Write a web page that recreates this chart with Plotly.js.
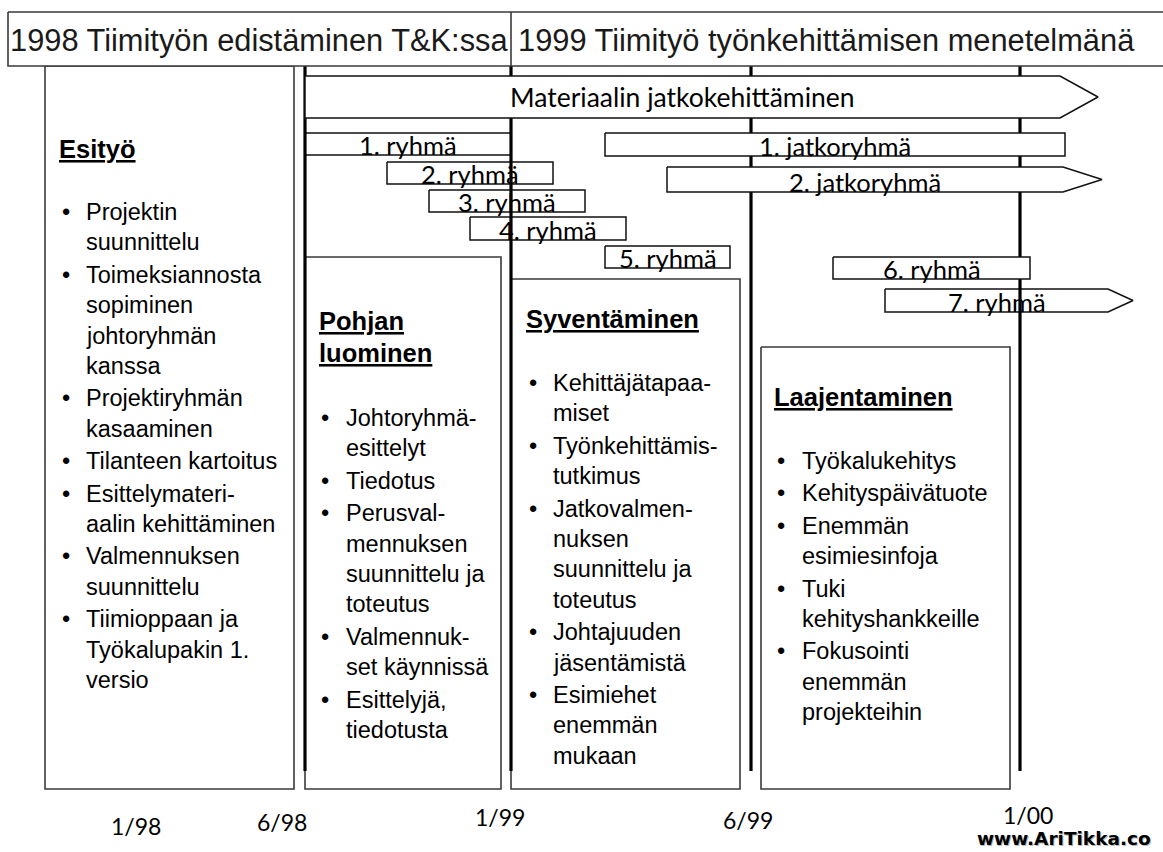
<!DOCTYPE html>
<html><head><meta charset="utf-8">
<script src="https://cdn.plot.ly/plotly-3.0.1.min.js"></script>
<style>html,body{margin:0;padding:0;background:#fff;overflow:hidden}</style>
</head><body><div id="chart" style="width:1163px;height:852px"></div>
<script>
// ---------------- DATA ----------------
const headerTitles = ["1998 Tiimityön edistäminen T&K:ssa", "1999 Tiimityö työnkehittämisen menetelmänä"];
const headerCellEdges = [8, 511, 1175];

const milestoneLabels = ["1/98", "6/98", "1/99", "6/99", "1/00"];
const milestoneLineX = [305, 511, 751, 1020];          // 6/98, 1/99, 6/99, 1/00

const barLabels = ["Materiaalin jatkokehittäminen", "1. ryhmä", "2. ryhmä", "3. ryhmä", "4. ryhmä",
                   "5. ryhmä", "1. jatkoryhmä", "2. jatkoryhmä", "6. ryhmä", "7. ryhmä"];
const barStart  = [305, 305, 387, 429, 470, 605, 605, 667, 833, 885];
const barEnd    = [1060, 511, 553, 585, 626, 730, 1065, 1063, 1030, 1108];
const barRowTop = [76, 133, 162, 190, 217, 246, 133, 167, 257, 289];
const barRowBot = [118, 155, 184, 212, 240, 268, 156, 192, 279, 312];
const barContinues = ["Materiaalin jatkokehittäminen", "2. jatkoryhmä", "7. ryhmä"];
const barsOverLines = ["Materiaalin jatkokehittäminen", "1. jatkoryhmä", "2. jatkoryhmä", "6. ryhmä"];

const phaseTitles = [["Esityö"], ["Pohjan", "luominen"], ["Syventäminen"], ["Laajentaminen"]];
const phaseItems = [
  [["Projektin", "suunnittelu"], ["Toimeksiannosta", "sopiminen", "johtoryhmän", "kanssa"],
   ["Projektiryhmän", "kasaaminen"], ["Tilanteen kartoitus"], ["Esittelymateri-", "aalin kehittäminen"],
   ["Valmennuksen", "suunnittelu"], ["Tiimioppaan ja", "Työkalupakin 1.", "versio"]],
  [["Johtoryhmä-", "esittelyt"], ["Tiedotus"], ["Perusval-", "mennuksen", "suunnittelu ja", "toteutus"],
   ["Valmennuk-", "set käynnissä"], ["Esittelyjä,", "tiedotusta"]],
  [["Kehittäjätapaa-", "miset"], ["Työnkehittämis-", "tutkimus"], ["Jatkovalmen-", "nuksen", "suunnittelu ja", "toteutus"],
   ["Johtajuuden", "jäsentämistä"], ["Esimiehet", "enemmän", "mukaan"]],
  [["Työkalukehitys"], ["Kehityspäivätuote"], ["Enemmän", "esimiesinfoja"], ["Tuki", "kehityshankkeille"],
   ["Fokusointi", "enemmän", "projekteihin"]]
];
const footerText = "www.AriTikka.co";

// ---------------- LAYOUT / STYLE ----------------
const W = 1163, H = 852;
const SANS = "Liberation Sans, Arial, sans-serif";
const GILL = "Lato, 'Open Sans', sans-serif";
const boxLine = "#3a3a3a";

const phaseBox = { x0: [45, 305, 511, 761], x1: [294, 501, 740, 1010], y0: [66, 257, 279, 347], y1: 789 };
const phaseTitleY = [149, 321, 319, 397];
const phaseFirstY = [212, 418, 383, 461];
const phaseTitleX = [58, 318, 525, 773];
const phaseBulletX = [61, 320, 528, 776];
const phaseTextX = [85, 345, 552, 801];
const lineStep = 30.4, itemGap = 2;
const milestoneLabelX = [136, 282, 500, 748, 1028];
const milestoneLabelY = [826, 822, 817, 820, 815];
const arrowTip = { "Materiaalin jatkokehittäminen": 38, "2. jatkoryhmä": 39, "7. ryhmä": 25 };

const traces = [];
const annotations = [];

function ann(o) {
  return Object.assign({ xref: "x", yref: "y", showarrow: false, borderpad: 0 }, o);
}
function poly(x0, x1, y0, y1, tip) {
  if (!tip) return { x: [x0, x1, x1, x0, x0], y: [y0, y0, y1, y1, y0] };
  const ym = (y0 + y1) / 2;
  return { x: [x0, x1, x1 + tip, x1, x0, x0], y: [y0, y0, ym, y1, y1, y0] };
}
function filled(p, color, width) {
  return { type: "scatter", mode: "lines", x: p.x, y: p.y, fill: "toself", fillcolor: "#ffffff",
           line: { color: color, width: width }, hoverinfo: "skip", showlegend: false };
}
function segment(xs, ys, color, width) {
  return { type: "scatter", mode: "lines", x: xs, y: ys, line: { color: color, width: width },
           hoverinfo: "skip", showlegend: false };
}

// phase boxes
phaseTitles.forEach((t, i) => {
  traces.push(filled(poly(phaseBox.x0[i], phaseBox.x1[i], phaseBox.y0[i], phaseBox.y1), boxLine, 1.6));
});

// bars drawn beneath the milestone lines
function addBar(i) {
  const lab = barLabels[i];
  const tip = barContinues.includes(lab) ? arrowTip[lab] : 0;
  traces.push(filled(poly(barStart[i], barEnd[i], barRowTop[i], barRowBot[i], tip), "#111", 1.5));
}
barLabels.forEach((lab, i) => { if (!barsOverLines.includes(lab)) addBar(i); });

// milestone lines
milestoneLineX.forEach(x => traces.push(segment([x, x], [66, 771], "#000", 3.2)));

// bars drawn over the lines
barLabels.forEach((lab, i) => { if (barsOverLines.includes(lab)) addBar(i); });

// header
traces.push(filled(poly(headerCellEdges[0], headerCellEdges[2], 12, 66), boxLine, 1.6));
traces.push(segment([headerCellEdges[1], headerCellEdges[1]], [12, 66], boxLine, 1.6));
const headerCenters = [259, 826];
headerTitles.forEach((t, i) => {
  annotations.push(ann({ x: headerCenters[i], y: 40,
    text: t, xanchor: "center", yanchor: "middle", font: { family: SANS, size: 30.8, color: "#1a1a1a" } }));
});

// bar labels
barLabels.forEach((lab, i) => {
  const big = i === 0;
  annotations.push(ann({ x: (barStart[i] + barEnd[i]) / 2, y: big ? (barRowTop[i] + barRowBot[i]) / 2 : barRowBot[i] + 5.5,
    text: lab, xanchor: "center", yanchor: big ? "middle" : "bottom",
    font: { family: GILL, size: big ? 26.5 : 25.5, color: "#000" } }));
});

// phase texts
phaseTitles.forEach((tl, i) => {
  tl.forEach((t, k) => {
    annotations.push(ann({ x: phaseTitleX[i], y: phaseTitleY[i] + k * 32, text: "<b><u>" + t + "</u></b>",
      xanchor: "left", yanchor: "middle", font: { family: SANS, size: 25.5, color: "#000" } }));
  });
  let y = phaseFirstY[i];
  phaseItems[i].forEach((item, j) => {
    if (j > 0) y += itemGap;
    item.forEach((line, k) => {
      if (k === 0) annotations.push(ann({ x: phaseBulletX[i], y: y, text: "•", xanchor: "left", yanchor: "middle",
        font: { family: SANS, size: 23.5, color: "#000" } }));
      annotations.push(ann({ x: phaseTextX[i], y: y, text: line, xanchor: "left", yanchor: "middle",
        font: { family: SANS, size: 23.5, color: "#000" } }));
      y += lineStep;
    });
  });
});

// milestone labels
milestoneLabels.forEach((t, i) => {
  annotations.push(ann({ x: milestoneLabelX[i], y: milestoneLabelY[i], text: t, xanchor: "center", yanchor: "middle",
    font: { family: GILL, size: 23, color: "#000" } }));
});

// footer
annotations.push(ann({ x: 977, y: 851, text: "<b>" + footerText + "</b>", xanchor: "left", yanchor: "bottom",
  font: { family: "DejaVu Sans", size: 18.5, color: "#b8b8b8" } }));
annotations.push(ann({ x: 976, y: 850, text: "<b>" + footerText + "</b>", xanchor: "left", yanchor: "bottom",
  font: { family: "DejaVu Sans", size: 18.5, color: "#000" } }));

const layout = {
  width: W, height: H, margin: { l: 0, r: 0, t: 0, b: 0 },
  paper_bgcolor: "#fff", plot_bgcolor: "#fff", showlegend: false,
  xaxis: { range: [0, W], visible: false, fixedrange: true },
  yaxis: { range: [H, 0], visible: false, fixedrange: true },
  annotations: annotations
};
Plotly.newPlot("chart", traces, layout, { staticPlot: true, displayModeBar: false });
</script></body></html>
